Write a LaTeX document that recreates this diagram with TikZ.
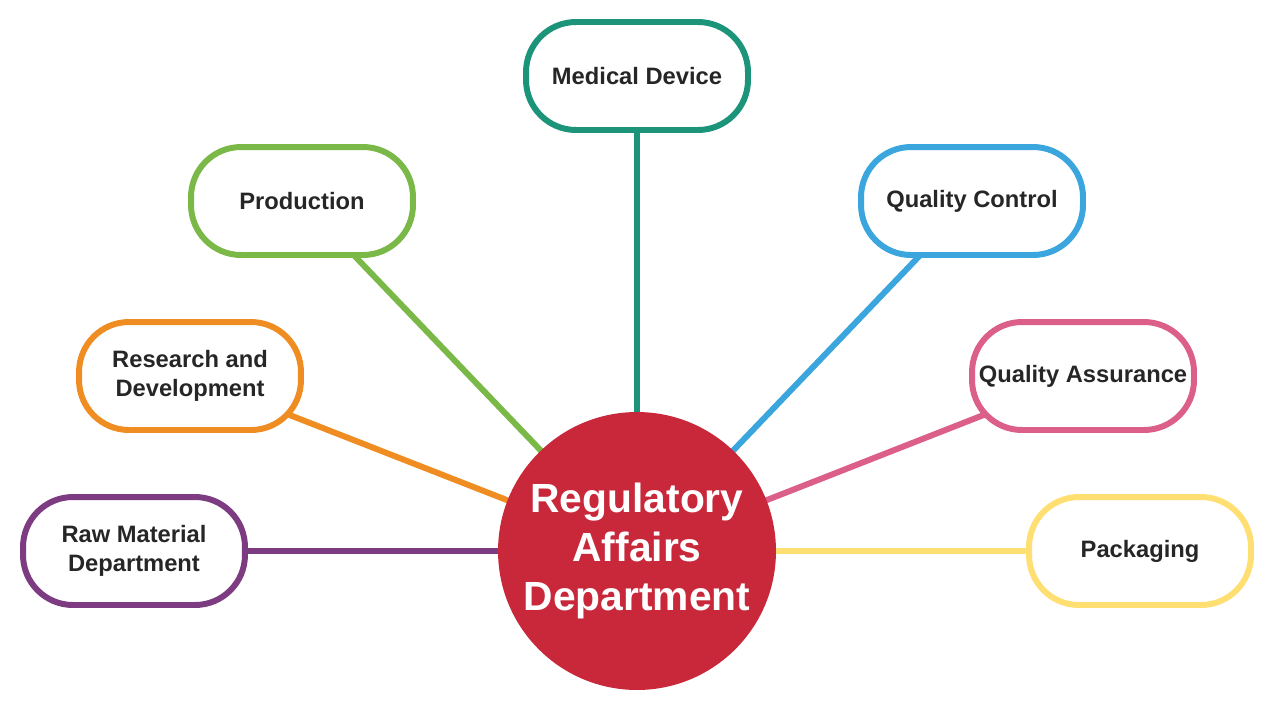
\documentclass[tikz,border=0pt]{standalone}
\usepackage{fontspec}
\setmainfont{Liberation Sans}
\usetikzlibrary{backgrounds}
\definecolor{cteal}{RGB}{27,148,122}
\definecolor{cgreen}{RGB}{122,184,72}
\definecolor{cblue}{RGB}{58,166,221}
\definecolor{corange}{RGB}{239,141,34}
\definecolor{cpink}{RGB}{220,95,138}
\definecolor{cpurple}{RGB}{125,60,130}
\definecolor{cyellow}{RGB}{255,223,113}
\definecolor{cred}{RGB}{200,40,58}
\definecolor{ctext}{RGB}{38,38,38}
\begin{document}
\begin{tikzpicture}[x=0.02cm,y=-0.02cm,
  dept/.style={draw=#1, line width=3.4pt, fill=white, rounded corners=1cm,
    minimum width=4.44cm, minimum height=2.16cm, inner sep=0pt, align=center,
    text=ctext, font=\bfseries\fontsize{13.5}{16.6}\selectfont},
  link/.style={draw=#1, line width=3.4pt},
  hub/.style={circle, fill=cred, minimum size=5.56cm, inner sep=0pt, align=center,
    text=white, font=\bfseries\fontsize{23.2}{27.8}\selectfont}]
\useasboundingbox (0,0) rectangle (1280,720);
\node[hub] (c) at (637,551) {Regulatory\\Affairs\\Department};
\node[dept=cteal] (md) at (637,76) {Medical Device};
\node[dept=cgreen] (pr) at (302,201) {Production};
\node[dept=cblue] (qc) at (972,201) {Quality Control};
\node[dept=corange] (rd) at (190,376) {Research and\\Development};
\node[dept=cpink] (qa) at (1083,376) {Quality Assurance};
\node[dept=cpurple] (rm) at (134,551) {Raw Material\\Department};
\node[dept=cyellow] (pk) at (1140,551) {Packaging};
\begin{pgfonlayer}{background}
\draw[link=cteal] (md.center) -- (c.center);
\draw[link=cgreen] (pr.center) -- (c.center);
\draw[link=cblue] (qc.center) -- (c.center);
\draw[link=corange] (rd.center) -- (c.center);
\draw[link=cpink] (qa.center) -- (c.center);
\draw[link=cpurple] (rm.center) -- (c.center);
\draw[link=cyellow] (pk.center) -- (c.center);
\end{pgfonlayer}
\end{tikzpicture}
\end{document}
